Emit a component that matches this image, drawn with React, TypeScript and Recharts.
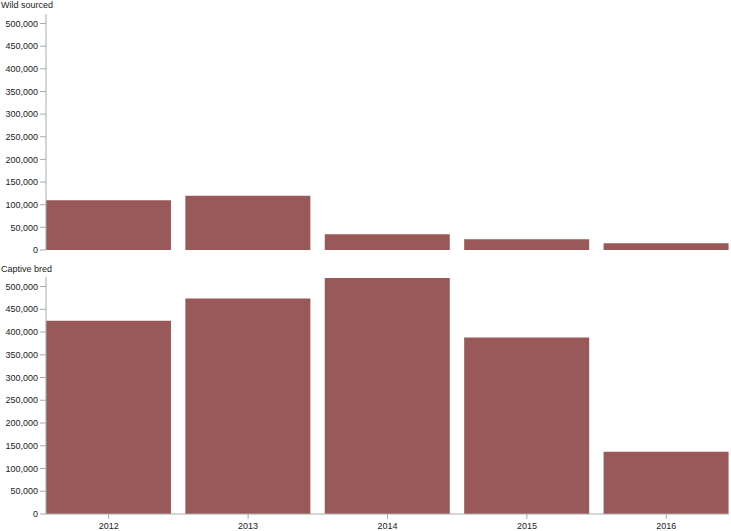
import React from "react";
import { BarChart, Bar, XAxis, YAxis } from "recharts";

const years = ["2012", "2013", "2014", "2015", "2016"];
const wildSourced = [110000, 120000, 35000, 24000, 15000];
const captiveBred = [425000, 474000, 519000, 388000, 137000];
const yTicks = [0, 50000, 100000, 150000, 200000, 250000, 300000, 350000, 400000, 450000, 500000];
const panelTitles = ["Wild sourced", "Captive bred"];

const wildData = years.map((y, i) => ({ year: y, value: wildSourced[i] }));
const captiveData = years.map((y, i) => ({ year: y, value: captiveBred[i] }));

const FONT = "'Liberation Sans', Arial, Helvetica, sans-serif";
const BAR = "#995958";
const AXIS = "#aaaaaa";
const TEXT = "#222222";
const FS = 9;
const fmt = (v: number) => v.toLocaleString("en-US");

const yAxisProps = {
  type: "number" as const,
  domain: [0, 521000],
  ticks: yTicks,
  width: 46,
  tickSize: 6,
  tickFormatter: fmt,
  tick: { fontSize: FS, fill: TEXT, fontFamily: FONT },
  axisLine: { stroke: AXIS },
  tickLine: { stroke: AXIS },
  interval: 0 as const,
};

export default function App() {
  return (
    <div style={{ position: "absolute", left: 0, top: 0, width: 731, height: 531, background: "#fff", fontFamily: FONT }}>
      <div style={{ position: "absolute", left: 1, top: -1, fontSize: FS, color: TEXT, lineHeight: "13px" }}>{panelTitles[0]}</div>
      <div style={{ position: "absolute", left: 1, top: 263, fontSize: FS, color: TEXT, lineHeight: "13px" }}>{panelTitles[1]}</div>
      <div style={{ position: "absolute", left: 0, top: 0 }}>
        <BarChart width={731} height={262} data={wildData} margin={{ top: 14, right: 2, bottom: 12, left: 0 }} barCategoryGap="5%">
          <XAxis dataKey="year" hide padding={{ left: -7, right: -7 }} />
          <YAxis {...yAxisProps} />
          <Bar dataKey="value" fill={BAR} isAnimationActive={false} />
        </BarChart>
      </div>
      <div style={{ position: "absolute", left: 0, top: 262 }}>
        <BarChart width={731} height={269} data={captiveData} margin={{ top: 15, right: 2, bottom: 0, left: 0 }} barCategoryGap="5%">
          <XAxis
            dataKey="year"
            height={17}
            padding={{ left: -7, right: -7 }}
            tickSize={5}
            tickMargin={4}
            tick={{ fontSize: FS, fill: TEXT, fontFamily: FONT }}
            axisLine={{ stroke: AXIS }}
            tickLine={{ stroke: AXIS }}
            interval={0}
          />
          <YAxis {...yAxisProps} />
          <Bar dataKey="value" fill={BAR} isAnimationActive={false} />
        </BarChart>
      </div>
    </div>
  );
}
